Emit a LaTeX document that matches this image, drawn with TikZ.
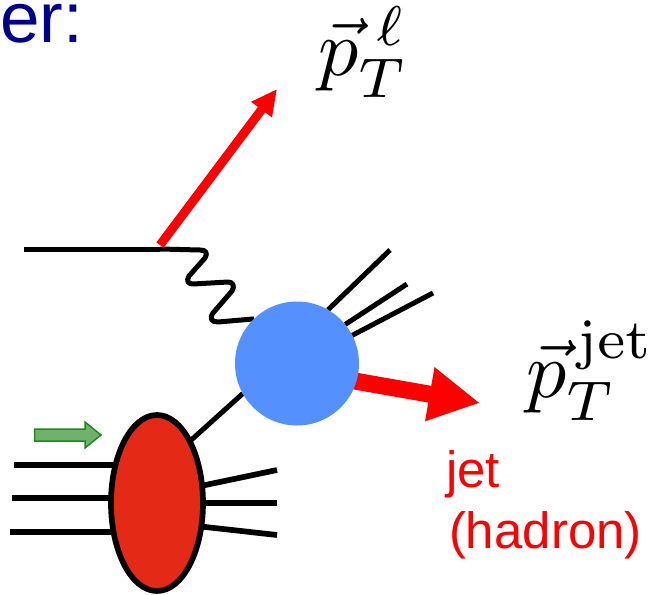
\documentclass[tikz,border=0pt]{standalone}
\usepackage[no-math]{fontspec}
\setmainfont{Liberation Sans}
\usetikzlibrary{shapes.geometric,arrows.meta,backgrounds}
\definecolor{hdrblue}{HTML}{00008B}
\definecolor{blobblue}{HTML}{5590FF}
\definecolor{hadred}{HTML}{E42A17}
\definecolor{grfill}{HTML}{70B26C}
\definecolor{grline}{HTML}{1E8A1E}
\tikzset{
  lep/.style={line width=5pt,black},
  leg/.style={line width=5.7pt,black},
  redarrow/.style={red,line cap=butt},
  hadronblob/.style={ellipse,draw=black,line width=5.7pt,fill=hadred,minimum width=92pt,minimum height=176pt,inner sep=0pt,outer sep=0pt},
  hardblob/.style={circle,fill=blobblue,minimum size=124pt,inner sep=0pt,outer sep=0pt},
  mathlabel/.style={inner sep=0pt,outer sep=0pt,anchor=base west},
}
\begin{document}
\begin{tikzpicture}[x=1pt,y=-1pt]
\useasboundingbox (0,0) rectangle (657,595);
\node[hadronblob] (had) at (157,503) {};
\node[hardblob] (blob) at (297,363.5) {};
\coordinate (in) at (24,249);
\coordinate (vtx) at (160,249);
\coordinate (leptip) at (277,89);
\coordinate (lt) at (160,245);
\coordinate (jt) at (345,379.3);
\coordinate (jettip) at (480,403);
\foreach \n/\x/\y in {a/390/250,b/407/284,c/433/293,l1/14/465,l2/12/498,l3/10/532,r1/277/470,r2/277/503,r3/277/535}
  \coordinate (\n) at (\x,\y);
\begin{scope}[on background layer]
  \draw[lep] (in) -- (vtx);
  \draw[lep,line join=round] (vtx) -- (200,250) .. controls (206,250) and (208,253) .. (205,258)
     -- (189,276) .. controls (186,281) and (188,284) .. (193,284)
     -- (228,282) .. controls (233,282) and (235,286) .. (232,291)
     -- (213,313) .. controls (209,319) and (212,322) .. (218,322)
     -- (blob.134);
  \draw[lep] (a) -- (blob.60);
  \draw[lep] (b) -- (blob.39);
  \draw[lep] (c) -- (blob.27);
  \draw[lep] (had.62) -- (blob.209.6);
  \draw[leg] (l1) -- (l1 -| had.center);
  \draw[leg] (l2) -- (l2 -| had.center);
  \draw[leg] (l3) -- (l3 -| had.center);
  \draw[leg] (r1) -- (had.21);
  \draw[leg] (r2) -- (r2 -| had.center);
  \draw[leg] (r3) -- (had.-28);
  \draw[redarrow,line width=17pt,-{Triangle[length=51pt,width=51pt]}] (jt) -- (jettip);
\end{scope}
\draw[redarrow,line width=9pt,-{Triangle[length=25.7pt,width=24pt]}] (lt) -- (leptip);
\draw[draw=grline,fill=grfill,line width=1.5pt] (34.5,429) -- (85,429) -- (85,422) -- (101,435) -- (85,448) -- (85,441) -- (34.5,441) -- cycle;
\node[mathlabel] (ptl) at (318,75) {\scalebox{8}{$\vec{p}_T^{\;\ell}$}};
\node[mathlabel] (ptj) at (526,397) {\scalebox{8}{$\vec{p}_T^{\,\mathrm{jet}}$}};
\node[mathlabel,text=hdrblue] (hdr) at (0,42) {\fontsize{71}{71}\selectfont er:};
\node[mathlabel,text=red] (jet1) at (446,487) {\fontsize{51}{51}\selectfont jet};
\node[mathlabel,text=red] (jet2) at (449,548) {\fontsize{51}{51}\selectfont (hadron)};
\end{tikzpicture}
\end{document}
